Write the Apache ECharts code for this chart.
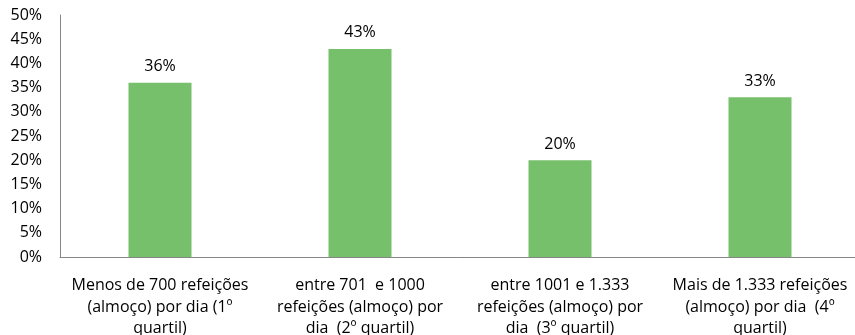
<!DOCTYPE html>
<html>
<head>
<meta charset="utf-8">
<script src="https://cdn.jsdelivr.net/npm/echarts@6/dist/echarts.min.js"></script>
<style>
  html, body { margin: 0; padding: 0; background: #fff; }
  #chart { width: 855px; height: 335px; }
</style>
</head>
<body>
<div id="chart"></div>
<script>
// categories (line breaks as in the original)
const categories = [
    'Menos de 700 refeições\n(almoço) por dia (1º\nquartil)',
    'entre 701  e 1000\nrefeições (almoço) por\ndia  (2º quartil)',
    'entre 1001 e 1.333\nrefeições (almoço) por\ndia  (3º quartil)',
    'Mais de 1.333 refeições\n(almoço) por dia  (4º\nquartil)'
];
const values = [36, 43, 20, 33];

const fontFamily = '"Open Sans", "Liberation Sans", sans-serif';

const chart = echarts.init(document.getElementById('chart'));

const option = {
    animation: false,
    grid: {
        left: 60,
        right: -5,
        top: 15,
        bottom: 78,
        containLabel: false,
        outerBoundsMode: 'none'
    },
    xAxis: {
        type: 'category',
        data: categories,
        axisLine: { lineStyle: { color: '#868686', width: 1 } },
        axisTick: { show: false },
        axisLabel: {
            color: '#000',
            fontSize: 16,
            fontFamily: fontFamily,
            lineHeight: 21.5,
            margin: 18,
            interval: 0
        }
    },
    yAxis: {
        type: 'value',
        min: 0,
        max: 50,
        interval: 5,
        axisLine: { show: true, lineStyle: { color: '#868686', width: 1 } },
        axisTick: { show: false },
        splitLine: { show: false },
        axisLabel: {
            color: '#000',
            fontSize: 16,
            fontFamily: fontFamily,
            margin: 18,
            formatter: '{value}%'
        }
    },
    series: [
        {
            type: 'bar',
            data: values,
            barWidth: '31.5%',
            itemStyle: { color: '#77c06b' },
            label: {
                show: true,
                position: 'top',
                distance: 8,
                color: '#000',
                fontSize: 16,
                fontFamily: fontFamily,
                formatter: '{c}%'
            }
        }
    ]
};

chart.setOption(option);
</script>
</body>
</html>
